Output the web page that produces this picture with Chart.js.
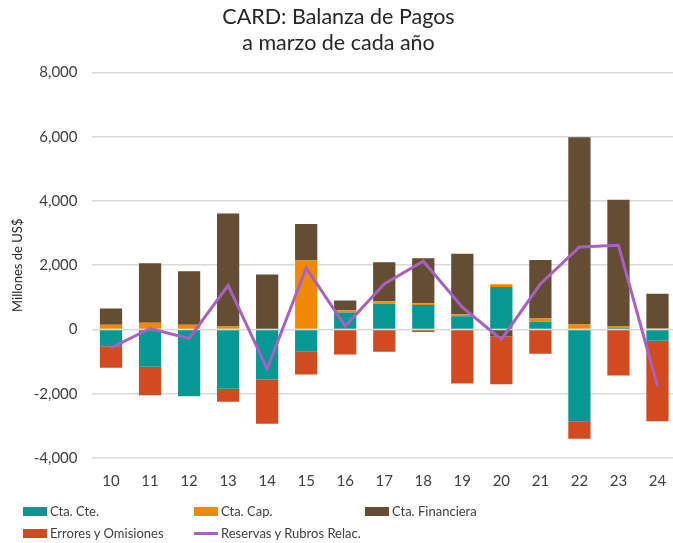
<!DOCTYPE html>
<html lang="es">
<head>
    <meta charset="UTF-8">
    <title>CARD: Balanza de Pagos</title>
    <style>
        html, body {
            margin: 0;
            padding: 0;
            overflow: hidden;
            background: #fff;
            font-family: Lato, "Open Sans", sans-serif;
        }
        #wrap {
            position: relative;
            width: 677px;
            height: 543px;
        }
        #legend {
            position: absolute;
            left: 0;
            top: 500px;
            width: 673px;
            font-size: 13px;
            color: #404040;
        }
        .item {
            position: absolute;
            display: flex;
            align-items: center;
            white-space: nowrap;
        }
        .box {
            width: 24px;
            height: 9px;
            margin-right: 3px;
        }
        .ln {
            width: 24px;
            height: 3px;
            margin-right: 3px;
        }
    </style>
    <script src="https://cdn.jsdelivr.net/npm/chart.js"></script>
</head>
<body>
<div id="wrap">
    <canvas id="myChart" width="677" height="543"></canvas>
    <div id="legend"></div>
</div>
<script>
    // datos (millones de US$), marzo de cada año
    const years = ['10','11','12','13','14','15','16','17','18','19','20','21','22','23','24'];
    const ctaCte = [-520, -1160, -2080, -1845, -1555, -695, 530, 800, 765, 415, 1325, 240, -2870, 50, -350];
    const ctaCap = [150, 210, 145, 90, 20, 2145, 70, 80, 55, 60, 80, 100, 155, 60, 30];
    const ctaFin = [500, 1855, 1670, 3520, 1690, 1140, 300, 1210, 1400, 1885, -215, 1820, 5830, 3930, 1080];
    const errores = [-670, -890, 0, -405, -1380, -705, -780, -695, -75, -1680, -1490, -755, -530, -1430, -2505];
    const reservas = [-570, 30, -280, 1370, -1220, 1915, 105, 1420, 2125, 695, -310, 1420, 2570, 2620, -1760];
    const yTicks = [-4000, -2000, 0, 2000, 4000, 6000, 8000];

    const barOpts = {
        type: 'bar',
        borderWidth: 0,
        categoryPercentage: 1,
        barPercentage: 0.57,
        order: 1
    };

    const datasets = [
        Object.assign({label: 'Cta. Cte.', data: ctaCte, backgroundColor: '#079893'}, barOpts),
        Object.assign({label: 'Cta. Cap.', data: ctaCap, backgroundColor: '#F08A06'}, barOpts),
        Object.assign({label: 'Cta. Financiera', data: ctaFin, backgroundColor: '#654D34'}, barOpts),
        Object.assign({label: 'Errores y Omisiones', data: errores, backgroundColor: '#D24A1F'}, barOpts),
        {
            type: 'line',
            label: 'Reservas y Rubros Relac.',
            data: reservas,
            borderColor: '#A960C3',
            backgroundColor: '#A960C3',
            borderWidth: 3,
            pointRadius: 0,
            tension: 0,
            fill: false,
            stack: 'reservas',
            order: 0
        }
    ];

    const ctx = document.getElementById('myChart').getContext('2d');
    new Chart(ctx, {
        data: {labels: years, datasets: datasets},
        options: {
            responsive: false,
            animation: false,
            layout: {padding: 0},
            plugins: {
                legend: {display: false},
                tooltip: {enabled: false},
                title: {
                    display: true,
                    text: ['CARD: Balanza de Pagos', 'a marzo de cada año'],
                    color: '#262626',
                    font: {family: 'Lato', size: 21.5, weight: 'normal', lineHeight: 1.22},
                    padding: {top: 4, bottom: 16}
                }
            },
            scales: {
                x: {
                    stacked: true,
                    offset: true,
                    grid: {display: false},
                    border: {display: false},
                    ticks: {color: '#404040', font: {family: 'Lato', size: 15}, padding: 6},
                    afterFit: s => { s.height = 85; }
                },
                y: {
                    stacked: true,
                    min: -4000,
                    max: 8000,
                    afterBuildTicks: s => { s.ticks = yTicks.map(v => ({value: v})); },
                    grid: {color: '#d9d9d9', lineWidth: 1.5, drawTicks: false},
                    border: {display: false},
                    ticks: {
                        color: '#404040',
                        font: {family: 'Lato', size: 15},
                        padding: 14,
                        callback: v => v.toLocaleString('en-US')
                    },
                    title: {
                        display: true,
                        text: 'Millones de US$',
                        color: '#262626',
                        font: {family: 'Lato', size: 13},
                        padding: {top: 10, bottom: 0}
                    },
                    afterFit: s => { s.width = 91.5; }
                }
            }
        }
    });

    // leyenda en rejilla de 3 columnas, como el original
    const cols = [23, 194, 365];
    const legend = document.getElementById('legend');
    datasets.forEach((d, i) => {
        const item = document.createElement('div');
        item.className = 'item';
        item.style.left = cols[i % 3] + 'px';
        item.style.top = (i < 3 ? 3 : 25) + 'px';
        const mark = document.createElement('span');
        mark.className = d.type === 'line' ? 'ln' : 'box';
        mark.style.background = d.type === 'line' ? d.borderColor : d.backgroundColor;
        const txt = document.createElement('span');
        txt.textContent = d.label;
        item.appendChild(mark);
        item.appendChild(txt);
        legend.appendChild(item);
    });
</script>
</body>
</html>
